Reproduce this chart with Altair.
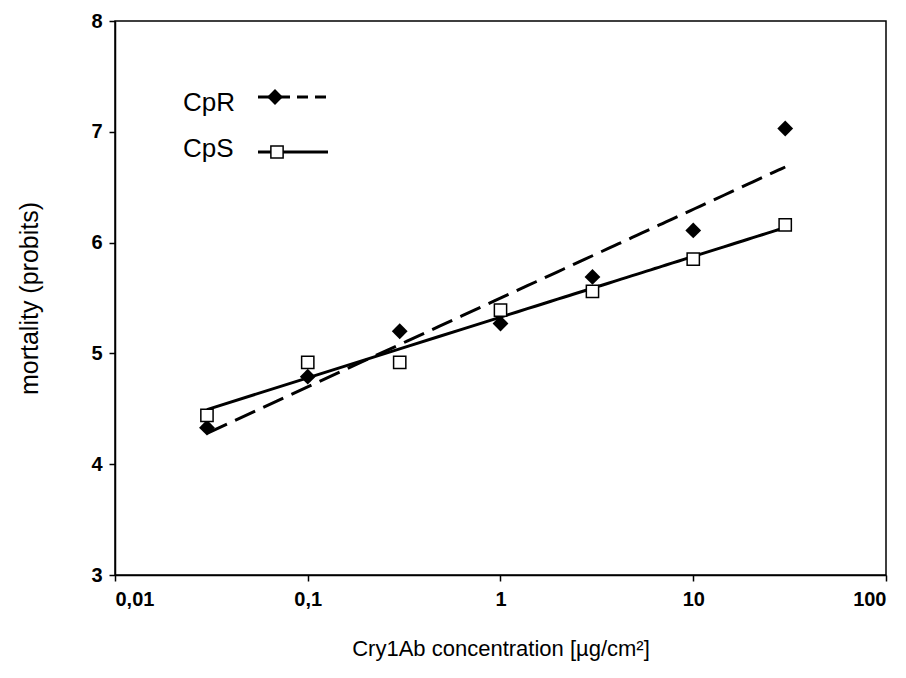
import altair as alt
import pandas as pd

# Cry1Ab dose (µg/cm²) and mortality in probits for the two strains
concentration = [0.03, 0.1, 0.3, 1, 3, 10, 30]
cpr_probits = [4.33, 4.79, 5.20, 5.27, 5.69, 6.11, 7.03]
cps_probits = [4.44, 4.92, 4.92, 5.39, 5.56, 5.85, 6.16]

x_ticks = [0.01, 0.1, 1, 10, 100]
y_ticks = [3, 4, 5, 6, 7, 8]

FONT = "Liberation Sans"

cpr = pd.DataFrame({"conc": concentration, "mortality": cpr_probits})
cps = pd.DataFrame({"conc": concentration, "mortality": cps_probits})

x_enc = alt.X(
    "conc:Q",
    scale=alt.Scale(type="log", domain=[0.01, 100]),
    axis=alt.Axis(
        values=x_ticks,
        labelExpr="replace(toString(datum.value), '.', ',')",
        title="Cry1Ab concentration [µg/cm²]",
    ),
)
y_enc = alt.Y(
    "mortality:Q",
    scale=alt.Scale(domain=[3, 8], nice=False, zero=False),
    axis=alt.Axis(values=y_ticks, title="mortality (probits)"),
)

# Probit regression lines (linear in log-dose)
cpr_fit = (
    alt.Chart(cpr)
    .transform_regression("conc", "mortality", method="log")
    .mark_line(color="black", strokeWidth=3, strokeDash=[22, 9])
    .encode(x=x_enc, y=y_enc)
)
cps_fit = (
    alt.Chart(cps)
    .transform_regression("conc", "mortality", method="log")
    .mark_line(color="black", strokeWidth=3)
    .encode(x=x_enc, y=y_enc)
)

DIAMOND = dict(shape="diamond", filled=True, color="black", size=250, opacity=1)
SQUARE = dict(shape="square", filled=True, fill="white", stroke="black",
              strokeWidth=1.5, size=150, opacity=1)

cpr_pts = alt.Chart(cpr).mark_point(**DIAMOND).encode(x=x_enc, y=y_enc)
cps_pts = alt.Chart(cps).mark_point(**SQUARE).encode(x=x_enc, y=y_enc)

# Legend drawn inside the plot area
key = pd.DataFrame({"label": ["CpR", "CpS"]})


def key_item(label):
    return alt.Chart(key).transform_filter(f"datum.label == '{label}'")


key_cpr_text = key_item("CpR").mark_text(
    font=FONT, fontSize=26, align="left", baseline="alphabetic", color="black"
).encode(text="label:N", x=alt.value(68), y=alt.value(90))
key_cps_text = key_item("CpS").mark_text(
    font=FONT, fontSize=26, align="left", baseline="alphabetic", color="black"
).encode(text="label:N", x=alt.value(68), y=alt.value(136))
key_cpr_solid = key_item("CpR").mark_rule(color="black", strokeWidth=3).encode(
    x=alt.value(143), x2=alt.value(175), y=alt.value(76)
)
key_cpr_dash = key_item("CpR").mark_rule(
    color="black", strokeWidth=3, strokeDash=[11, 7]
).encode(x=alt.value(182), x2=alt.value(213), y=alt.value(76))
key_cpr_pt = key_item("CpR").mark_point(**DIAMOND).encode(
    x=alt.value(160), y=alt.value(76)
)
key_cps_line = key_item("CpS").mark_rule(color="black", strokeWidth=3).encode(
    x=alt.value(143), x2=alt.value(213), y=alt.value(131)
)
key_cps_pt = key_item("CpS").mark_point(**SQUARE).encode(
    x=alt.value(162), y=alt.value(131)
)

chart = (
    alt.layer(
        cpr_fit, cps_fit, cpr_pts, cps_pts,
        key_cpr_solid, key_cpr_dash, key_cpr_pt, key_cps_line, key_cps_pt,
        key_cpr_text, key_cps_text,
    )
    .properties(
        width=771,
        height=554,
        autosize="none",
        padding={"left": 115, "top": 21, "right": 20, "bottom": 103},
        background="white",
    )
    .configure_view(stroke="black", strokeWidth=1.5)
    .configure_axis(
        grid=False,
        domainColor="black",
        domainWidth=1.5,
        tickColor="black",
        tickWidth=1.5,
        tickSize=6,
        labelFont=FONT,
        labelFontSize=20,
        labelFontWeight="bold",
        labelColor="black",
        titleFont=FONT,
        titleFontWeight="normal",
        titleColor="black",
    )
    .configure_axisX(labelPadding=8, titlePadding=29, titleFontSize=22)
    .configure_axisY(labelPadding=7, titlePadding=48, titleFontSize=25)
)

chart.save("out.html", embed_options={"renderer": "svg", "actions": False})
